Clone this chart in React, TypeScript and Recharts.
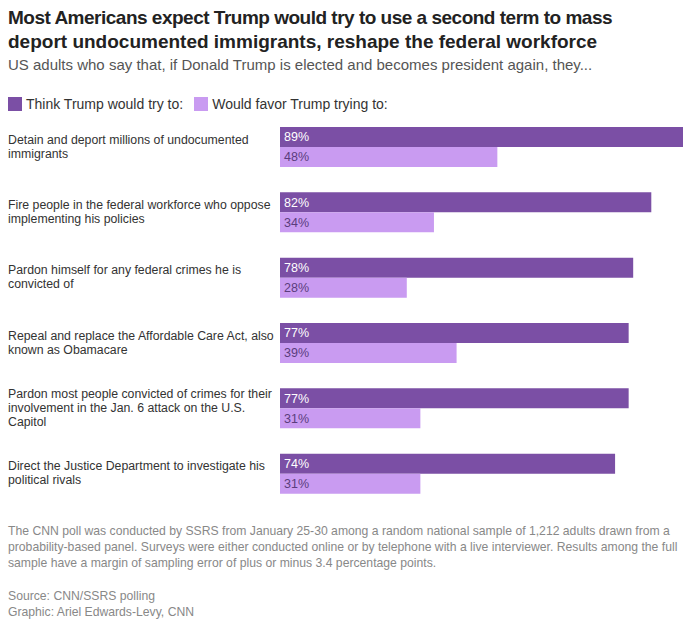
import { BarChart, Bar, XAxis, YAxis, LabelList } from 'recharts';

const CATEGORIES = [
  'Detain and deport millions of undocumented\nimmigrants',
  'Fire people in the federal workforce who oppose\nimplementing his policies',
  'Pardon himself for any federal crimes he is\nconvicted of',
  'Repeal and replace the Affordable Care Act, also\nknown as Obamacare',
  'Pardon most people convicted of crimes for their\ninvolvement in the Jan. 6 attack on the U.S.\nCapitol',
  'Direct the Justice Department to investigate his\npolitical rivals',
];
const THINK_TRY = [89, 82, 78, 77, 77, 74];
const WOULD_FAVOR = [48, 34, 28, 39, 31, 31];

const DARK = '#7b4fa5';
const LIGHT = '#c99bf1';
const FONT = '"Liberation Sans", Arial, sans-serif';

const data = CATEGORIES.map((name, i) => ({ name, think: THINK_TRY[i], favor: WOULD_FAVOR[i] }));

function LabelTick(props: any) {
  const { y, payload } = props;
  const lines: string[] = String(payload.value).split('\n');
  const lh = 14;
  const start = y - ((lines.length - 1) * lh) / 2;
  return (
    <text x={8} y={start} fill="#333" fontSize={12.3} fontFamily={FONT} dominantBaseline="central">
      {lines.map((l, i) => (
        <tspan key={i} x={8} y={start + i * lh}>
          {l}
        </tspan>
      ))}
    </text>
  );
}

export default function App() {
  return (
    <div style={{ position: 'absolute', left: 0, top: 0, width: 691, height: 633, background: '#fff', fontFamily: FONT }}>
      <div style={{ position: 'absolute', left: 8, top: 6, fontSize: 19, fontWeight: 700, lineHeight: '24px', color: '#222', whiteSpace: 'nowrap' }}>
        <div style={{ letterSpacing: -0.5 }}>Most Americans expect Trump would try to use a second term to mass</div>
        <div>deport undocumented immigrants, reshape the federal workforce</div>
      </div>
      <div style={{ position: 'absolute', left: 8, top: 56, fontSize: 15, color: '#555', whiteSpace: 'nowrap' }}>
        US adults who say that, if Donald Trump is elected and becomes president again, they...
      </div>
      <div style={{ position: 'absolute', left: 8, top: 96, fontSize: 14, color: '#333', display: 'flex', alignItems: 'center', whiteSpace: 'nowrap' }}>
        <span style={{ width: 14, height: 14, background: DARK, display: 'inline-block', marginRight: 4 }} />
        <span style={{ marginRight: 11 }}>Think Trump would try to:</span>
        <span style={{ width: 14, height: 14, background: LIGHT, display: 'inline-block', marginRight: 4 }} />
        <span>Would favor Trump trying to:</span>
      </div>
      <div style={{ position: 'absolute', left: 0, top: 0 }}>
        <BarChart
          width={691}
          height={633}
          data={data}
          layout="vertical"
          margin={{ top: 114, right: 8, bottom: 127, left: 0 }}
          barSize={20}
          barGap={0}
        >
          <XAxis type="number" domain={[0, 89]} hide />
          <YAxis type="category" dataKey="name" width={280} axisLine={false} tickLine={false} tick={<LabelTick />} interval={0} />
          <Bar dataKey="think" fill={DARK} isAnimationActive={false}>
            <LabelList dataKey="think" position="insideLeft" offset={4} fill="#fff" fontSize={12.5} fontFamily={FONT} formatter={(v: any) => `${v}%`} />
          </Bar>
          <Bar dataKey="favor" fill={LIGHT} isAnimationActive={false}>
            <LabelList dataKey="favor" position="insideLeft" offset={4} fill="#5b3d7d" fontSize={12.5} fontFamily={FONT} formatter={(v: any) => `${v}%`} />
          </Bar>
        </BarChart>
      </div>
      <div style={{ position: 'absolute', left: 8, top: 523, width: 676, fontSize: 12.2, lineHeight: '16px', color: '#888' }}>
        The CNN poll was conducted by SSRS from January 25-30 among a random national sample of 1,212 adults drawn from a probability-based panel. Surveys were either conducted online or by telephone with a live interviewer. Results among the full sample have a margin of sampling error of plus or minus 3.4 percentage points.
      </div>
      <div style={{ position: 'absolute', left: 8, top: 588, fontSize: 12.2, lineHeight: '16px', color: '#888' }}>
        Source: CNN/SSRS polling
        <br />
        Graphic: Ariel Edwards-Levy, CNN
      </div>
    </div>
  );
}
